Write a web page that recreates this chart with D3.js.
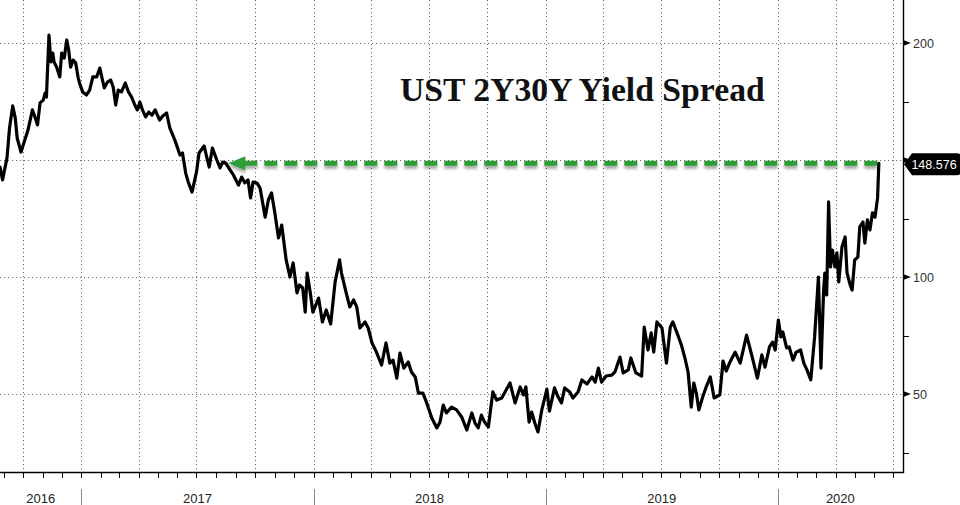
<!DOCTYPE html>
<html>
<head>
<meta charset="utf-8">
<script src="https://cdn.jsdelivr.net/npm/d3@7"></script>
<style>
  html, body { margin: 0; padding: 0; background: #fff; }
  svg { display: block; }
</style>
</head>
<body>
<svg id="chart" width="960" height="505"></svg>
<script>
// ---- DATA ----
const title = "UST 2Y30Y Yield Spread";
const dates = [
"2016-08-26","2016-08-30","2016-09-06","2016-09-10","2016-09-15","2016-09-19","2016-09-22","2016-09-28",
"2016-10-03","2016-10-09","2016-10-16","2016-10-20","2016-10-24","2016-10-28","2016-11-02","2016-11-05",
"2016-11-07","2016-11-11","2016-11-14","2016-11-17","2016-11-19","2016-11-23","2016-11-28","2016-12-01",
"2016-12-05","2016-12-09","2016-12-12","2016-12-15","2016-12-19","2016-12-23","2016-12-27","2016-12-30",
"2017-01-03","2017-01-09","2017-01-14","2017-01-19","2017-01-25","2017-01-30","2017-02-02","2017-02-06",
"2017-02-11","2017-02-16","2017-02-20","2017-02-24","2017-02-28","2017-03-05","2017-03-11","2017-03-16",
"2017-03-21","2017-03-26","2017-03-30","2017-04-03","2017-04-07","2017-04-12","2017-04-17","2017-04-22",
"2017-04-27","2017-05-04","2017-05-09","2017-05-15","2017-05-20","2017-05-28","2017-06-05","2017-06-09",
"2017-06-14","2017-06-18","2017-06-24","2017-07-01","2017-07-05","2017-07-13","2017-07-17","2017-07-21",
"2017-07-26","2017-08-02","2017-08-07","2017-08-11","2017-08-16","2017-08-23","2017-08-28","2017-09-05",
"2017-09-10","2017-09-15","2017-09-20","2017-09-24","2017-09-28","2017-10-04","2017-10-09","2017-10-17",
"2017-10-22","2017-10-27","2017-11-01","2017-11-07","2017-11-12","2017-11-19","2017-11-25","2017-11-30",
"2017-12-06","2017-12-10","2017-12-15","2017-12-19","2017-12-22","2017-12-27","2017-12-31","2018-01-09",
"2018-01-15","2018-01-21","2018-01-28","2018-02-04","2018-02-11","2018-02-14","2018-02-21","2018-02-27",
"2018-03-05","2018-03-10","2018-03-15","2018-03-23","2018-03-28","2018-04-03","2018-04-10","2018-04-18",
"2018-04-25","2018-05-01","2018-05-06","2018-05-12","2018-05-17","2018-05-23","2018-05-30","2018-06-04",
"2018-06-10","2018-06-15","2018-06-22","2018-06-28","2018-07-06","2018-07-14","2018-07-19","2018-07-24",
"2018-07-29","2018-08-06","2018-08-14","2018-08-22","2018-08-30","2018-09-07","2018-09-12","2018-09-17",
"2018-09-22","2018-09-27","2018-10-03","2018-10-10","2018-10-16","2018-10-24","2018-11-06","2018-11-14",
"2018-11-22","2018-11-27","2018-12-01","2018-12-06","2018-12-10","2018-12-15","2018-12-20","2018-12-26",
"2019-01-03","2019-01-07","2019-01-15","2019-01-20","2019-01-26","2019-01-31","2019-02-08","2019-02-13",
"2019-02-21","2019-02-27","2019-03-07","2019-03-15","2019-03-20","2019-03-25","2019-03-30","2019-04-06",
"2019-04-15","2019-04-20","2019-04-28","2019-05-03","2019-05-11","2019-05-15","2019-05-23","2019-06-01",
"2019-06-05","2019-06-11","2019-06-16","2019-06-20","2019-06-25","2019-07-03","2019-07-10","2019-07-16",
"2019-07-20","2019-07-29","2019-08-03","2019-08-08","2019-08-13","2019-08-18","2019-08-22","2019-08-26",
"2019-08-30","2019-09-05","2019-09-11","2019-09-17","2019-09-23","2019-10-02","2019-10-07","2019-10-12",
"2019-10-18","2019-10-26","2019-11-03","2019-11-13","2019-11-21","2019-11-30","2019-12-07","2019-12-12",
"2019-12-19","2019-12-24","2019-12-28","2020-01-02","2020-01-06","2020-01-09","2020-01-15","2020-01-19",
"2020-01-25","2020-01-30","2020-02-06","2020-02-11","2020-02-16","2020-02-22","2020-02-28","2020-03-05",
"2020-03-09","2020-03-13","2020-03-15","2020-03-18","2020-03-21","2020-03-24","2020-03-27","2020-03-31",
"2020-04-03","2020-04-06","2020-04-11","2020-04-16","2020-04-19","2020-04-24","2020-04-27","2020-05-01",
"2020-05-06","2020-05-09","2020-05-14","2020-05-17","2020-05-21","2020-05-25","2020-05-29","2020-06-02",
"2020-06-06","2020-06-08"
];
const spread = [
147.0,141.5,150.9,163.7,173.1,167.9,159.4,153.4,
157.7,162.8,171.4,168.4,165.0,174.4,175.6,178.6,
176.9,203.4,191.9,195.7,191.9,189.7,185.5,195.7,
193.6,201.3,197.0,189.7,192.7,191.5,185.0,182.1,
179.1,177.8,179.9,185.5,185.5,189.3,185.5,180.8,
183.3,184.2,181.2,173.5,179.9,179.1,182.9,179.1,
176.9,173.5,171.4,174.8,171.4,168.4,170.5,169.2,
171.4,167.1,168.8,170.1,163.7,158.5,152.1,153.0,
144.4,140.6,136.3,144.9,153.0,156.0,151.3,147.0,
155.1,150.0,146.6,149.1,148.7,145.7,143.6,139.3,
142.7,140.2,141.5,133.8,140.6,140.2,138.0,125.6,
132.9,135.9,127.8,116.7,122.2,107.3,100.0,106.0,
93.2,96.6,95.3,85.0,101.7,93.2,85.0,91.0,
80.8,85.9,79.9,97.9,107.3,101.7,93.6,87.2,
90.2,87.2,78.2,80.8,78.2,71.8,67.9,62.4,
71.8,63.2,64.5,56.8,67.5,61.1,63.7,59.4,
57.3,50.4,50.4,46.2,39.7,35.5,38.0,45.3,
41.9,44.4,43.2,40.2,34.6,41.9,37.6,35.5,
41.0,38.0,35.9,50.9,47.4,48.3,54.7,46.2,
53.0,49.6,53.0,38.0,42.3,37.6,33.8,43.2,
52.1,42.7,52.6,49.1,46.2,52.6,50.9,48.3,
50.9,56.0,54.3,57.3,55.1,61.1,55.1,57.7,
58.1,59.4,65.8,59.0,60.3,65.4,59.0,57.7,
78.6,68.8,76.1,67.9,80.8,78.2,63.2,78.6,
80.8,74.4,70.5,65.4,59.4,44.4,54.7,50.4,
43.2,48.7,53.4,57.3,48.3,49.6,64.1,59.8,
63.7,67.9,63.2,75.2,66.7,56.8,66.7,61.5,
70.1,72.2,68.8,81.6,74.4,76.5,69.7,70.1,
64.5,67.9,68.8,63.2,60.3,56.0,74.4,100.0,
61.1,93.2,101.7,92.3,132.1,104.3,111.5,104.3,
110.3,97.9,112.8,117.1,101.7,96.6,94.4,107.3,
108.5,121.4,123.5,114.5,124.4,120.1,127.4,125.6,
133.8,148.576
];
const yMajorTicks = [50, 100, 150, 200];
const yLabelTicks = [50, 100, 200];
const yMinorTicks = [25, 75, 125, 175];
const yearLabels = ["2016", "2017", "2018", "2019", "2020"];
const xDomain = ["2016-08-26", "2020-07-16"];
const yDomain = [16.67, 218.38];
const arrowFromDate = "2017-08-20";
const lastLabel = "148.576";

// ---- CHART ----
const parse = d3.timeParse("%Y-%m-%d");
const data = dates.map((d, i) => ({ date: parse(d), value: spread[i] }));

const plotRight = 903, plotBottom = 472;
const svg = d3.select("#chart");

const x = d3.scaleTime().domain(xDomain.map(parse)).range([0, plotRight]);
const y = d3.scaleLinear().domain(yDomain).range([plotBottom, 0]);

// defs: shadow for arrow
const defs = svg.append("defs");
const f = defs.append("filter").attr("id", "shadow").attr("x", "-5%").attr("y", "-100%").attr("width", "110%").attr("height", "300%");
f.append("feGaussianBlur").attr("in", "SourceAlpha").attr("stdDeviation", 1.6).attr("result", "b");
f.append("feOffset").attr("in", "b").attr("dx", 0).attr("dy", 2.5).attr("result", "o");
f.append("feComponentTransfer").attr("in", "o").attr("result", "s")
  .append("feFuncA").attr("type", "linear").attr("slope", 0.35);
const fm = f.append("feMerge");
fm.append("feMergeNode").attr("in", "s");
fm.append("feMergeNode").attr("in", "SourceGraphic");

// grid
const grid = svg.append("g").attr("stroke", "#707070").attr("stroke-width", 1).attr("stroke-dasharray", "1.2,2.8").attr("fill", "none");
const quarters = d3.timeMonth.every(3).range(x.domain()[0], x.domain()[1]);
grid.selectAll("line.v").data(quarters).join("line")
  .attr("x1", d => Math.round(x(d)) + 0.5).attr("x2", d => Math.round(x(d)) + 0.5)
  .attr("y1", 0).attr("y2", plotBottom);
grid.selectAll("line.h").data(yMajorTicks).join("line")
  .attr("x1", 0).attr("x2", plotRight)
  .attr("y1", d => Math.round(y(d)) + 0.5).attr("y2", d => Math.round(y(d)) + 0.5);

// title
svg.append("text").attr("x", 400).attr("y", 101)
  .attr("font-family", "'Liberation Serif', 'Times New Roman', serif")
  .attr("font-weight", "bold").attr("font-size", 33.7).attr("fill", "#111")
  .text(title);

// green dashed arrow at last value
const lastVal = spread[spread.length - 1];
const lastDate = data[data.length - 1].date;
const ay = y(lastVal);
const ax = x(parse(arrowFromDate));
const arrowG = svg.append("g").attr("filter", "url(#shadow)");
arrowG.append("line")
  .attr("x1", ax + 16).attr("x2", x(lastDate))
  .attr("y1", ay).attr("y2", ay)
  .attr("stroke", "#2f9d37").attr("stroke-width", 5)
  .attr("stroke-dasharray", "13,7");
arrowG.append("path")
  .attr("d", `M${ax},${ay} L${ax + 17},${ay - 7} L${ax + 17},${ay + 7} Z`)
  .attr("fill", "#2f9d37");

// line
svg.append("path").datum(data)
  .attr("fill", "none").attr("stroke", "#000").attr("stroke-width", 3.2)
  .attr("stroke-linejoin", "round").attr("stroke-linecap", "round")
  .attr("d", d3.line().x(d => x(d.date)).y(d => y(d.value)));

// axes lines
svg.append("line").attr("x1", 0).attr("x2", plotRight + 0.5).attr("y1", plotBottom + 0.5).attr("y2", plotBottom + 0.5)
  .attr("stroke", "#000").attr("stroke-width", 1.4);
svg.append("line").attr("x1", plotRight + 0.5).attr("x2", plotRight + 0.5).attr("y1", 0).attr("y2", plotBottom + 1)
  .attr("stroke", "#000").attr("stroke-width", 1.4);

// bottom month ticks
const months = d3.timeMonth.range(x.domain()[0], x.domain()[1]);
svg.append("g").selectAll("line").data(months).join("line")
  .attr("x1", d => Math.round(x(d)) + 0.5).attr("x2", d => Math.round(x(d)) + 0.5)
  .attr("y1", plotBottom).attr("y2", plotBottom + 6)
  .attr("stroke", "#000").attr("stroke-width", 1);

// year separators and labels
const years = d3.timeYear.range(x.domain()[0], x.domain()[1]);
svg.append("g").selectAll("line").data(years).join("line")
  .attr("x1", d => Math.round(x(d)) + 0.5).attr("x2", d => Math.round(x(d)) + 0.5)
  .attr("y1", 489).attr("y2", 505)
  .attr("stroke", "#8a8a8a").attr("stroke-width", 1);
svg.append("g").selectAll("text").data(yearLabels).join("text")
  .attr("x", d => {
    const s = Math.max(x(new Date(+d, 0, 1)), 0);
    const e = Math.min(x(new Date(+d + 1, 0, 1)), plotRight);
    return (s + e) / 2;
  })
  .attr("y", 503).attr("text-anchor", "middle")
  .attr("font-family", "'Liberation Sans', Arial, sans-serif").attr("font-size", 13).attr("fill", "#222")
  .text(d => d);

// right axis ticks
svg.append("g").selectAll("path").data(yMajorTicks).join("path")
  .attr("d", d => `M${plotRight},${y(d) - 3} L${plotRight + 8},${y(d)} L${plotRight},${y(d) + 3} Z`)
  .attr("fill", "#000");
svg.append("g").selectAll("line").data(yMinorTicks).join("line")
  .attr("x1", plotRight).attr("x2", plotRight + 6)
  .attr("y1", d => Math.round(y(d)) + 0.5).attr("y2", d => Math.round(y(d)) + 0.5)
  .attr("stroke", "#000").attr("stroke-width", 1);
svg.append("g").selectAll("text").data(yLabelTicks).join("text")
  .attr("x", 913).attr("y", d => y(d) + 4.5)
  .attr("font-family", "'Liberation Sans', Arial, sans-serif").attr("font-size", 12.5).attr("fill", "#333")
  .text(d => d);

// last value label
svg.append("path")
  .attr("d", `M${plotRight + 1},${ay + 1} L${plotRight + 9},${ay - 10} L957,${ay - 10} Q961,${ay - 10} 961,${ay - 6} L961,${ay + 8} Q961,${ay + 12} 957,${ay + 12} L${plotRight + 9},${ay + 12} Z`)
  .attr("fill", "#000");
svg.append("text").attr("x", 934).attr("y", ay + 5.5).attr("text-anchor", "middle")
  .attr("font-family", "'Liberation Sans', Arial, sans-serif").attr("font-size", 12.5).attr("fill", "#fff")
  .text(lastLabel);
</script>
</body>
</html>
